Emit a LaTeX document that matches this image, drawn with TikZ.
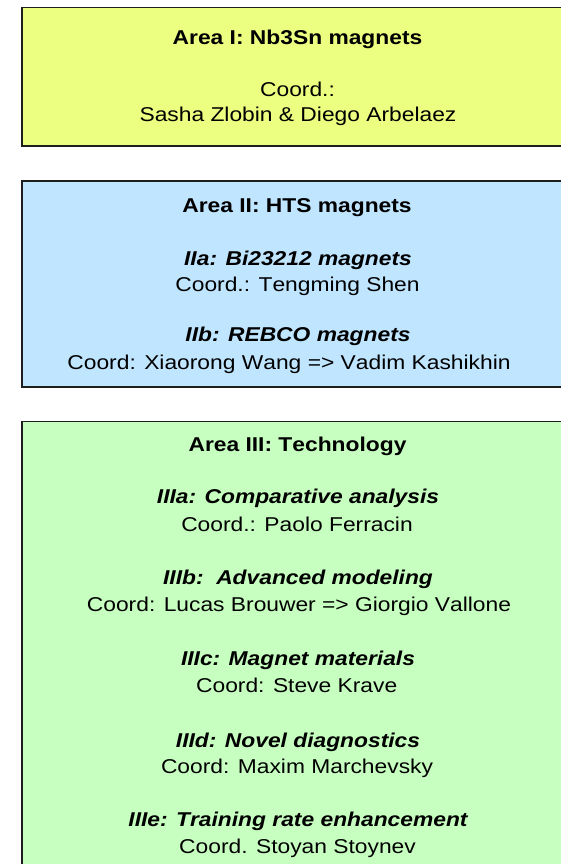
\documentclass[tikz,border=0pt]{standalone}
\usepackage{fontspec}
\setmainfont{Liberation Sans}[FakeStretch=1.14,Kerning=Off]
\definecolor{areaIfill}{RGB}{236,255,128}
\definecolor{areaIIfill}{RGB}{192,229,255}
\definecolor{areaIIIfill}{RGB}{199,255,192}
\definecolor{edge}{RGB}{30,30,30}
\begin{document}
\begin{tikzpicture}[x=1pt,y=-1pt,
  areabox/.style={draw=edge, line width=1.5pt, inner sep=0pt, anchor=north west},
  titleline/.style={anchor=base, inner sep=0pt, font=\fontsize{20}{24}\selectfont\bfseries},
  subline/.style={anchor=base, inner sep=0pt, font=\fontsize{20}{24}\selectfont\bfseries\itshape},
  coordline/.style={anchor=base, inner sep=0pt, font=\fontsize{20}{24}\selectfont}]
\useasboundingbox (0,0) rectangle (561,864);
\clip (0,0) rectangle (561,864);

% Area boxes
\node[areabox, fill=areaIfill, minimum width=552pt, minimum height=138pt] (boxI) at (21,7) {};
\node[areabox, fill=areaIIfill, minimum width=552pt, minimum height=206pt] (boxII) at (21,180) {};
\node[areabox, fill=areaIIIfill, minimum width=552pt, minimum height=460pt] (boxIII) at (21,420.5) {};

% Area I
\node[titleline] (tI) at (297.5,44.5) {Area I: Nb3Sn magnets};
\node[coordline] (cIa) at (297.5,96.5) {Coord.:};
\node[coordline] (cIb) at (298,121.5) {Sasha Zlobin \& Diego Arbelaez};

% Area II
\node[titleline] (tII) at (297,212.5) {Area II: HTS magnets};
\node[subline] (sIIa) at (298,265.5) {IIa: Bi23212 magnets};
\node[coordline] (cIIa) at (297.5,291.5) {Coord.: Tengming Shen};
\node[subline] (sIIb) at (298,341.5) {IIb: REBCO magnets};
\node[coordline] (cIIb) at (289,369) {Coord: Xiaorong Wang => Vadim Kashikhin};

% Area III
\node[titleline] (tIII) at (297.5,451.5) {Area III: Technology};
\node[subline] (sIIIa) at (298,503.5) {IIIa: Comparative analysis};
\node[coordline] (cIIIa) at (297,531) {Coord.: Paolo Ferracin};
\node[subline] (sIIIb) at (298,584.5) {IIIb:\ \ Advanced modeling};
\node[coordline] (cIIIb) at (299,611.5) {Coord: Lucas Brouwer => Giorgio Vallone};
\node[subline] (sIIIc) at (298,665.7) {IIIc: Magnet materials};
\node[coordline] (cIIIc) at (296.7,692.7) {Coord: Steve Krave};
\node[subline] (sIIId) at (298,747.2) {IIId: Novel diagnostics};
\node[coordline] (cIIId) at (297,773.3) {Coord: Maxim Marchevsky};
\node[subline] (sIIIe) at (298,826.7) {IIIe: Training rate enhancement};
\node[coordline] (cIIIe) at (297.5,853) {Coord. Stoyan Stoynev};
\end{tikzpicture}
\end{document}
